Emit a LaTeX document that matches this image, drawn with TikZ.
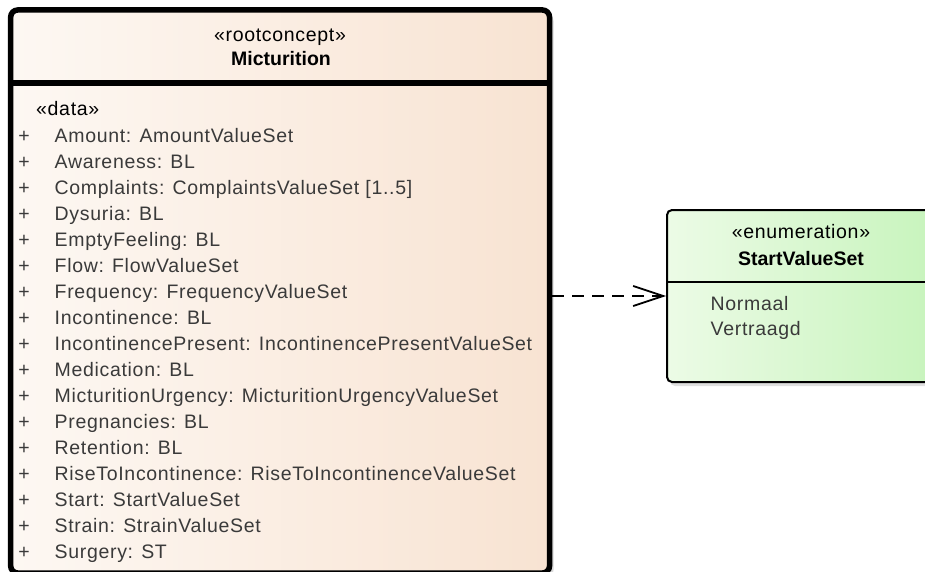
\documentclass[tikz,border=0pt]{standalone}
\usepackage{fontspec}
\setmainfont{Liberation Sans}[LetterSpace=3.5, BoldFeatures={LetterSpace=0}]
\usetikzlibrary{arrows.meta, shadows, positioning}

\definecolor{conceptL}{HTML}{FDF8F3}
\definecolor{conceptR}{HTML}{F8E3D2}
\definecolor{enumL}{HTML}{ECFBE6}
\definecolor{enumR}{HTML}{C7F4BC}
\definecolor{attrgray}{HTML}{3A3A3A}

\begin{document}
\begin{tikzpicture}[x=1pt, y=-1pt,
    concept/.style={
        rectangle, draw=black, line width=5.5pt, rounded corners=7pt,
        left color=conceptL, right color=conceptR,
        drop shadow={shadow xshift=4pt, shadow yshift=-4pt, fill=black!30}
    },
    enumbox/.style={
        rectangle, draw=black, line width=2pt, rounded corners=5pt,
        left color=enumL, right color=enumR,
        drop shadow={shadow xshift=3pt, shadow yshift=-4pt, fill=black!25}
    },
    umltext/.style={inner sep=0pt, anchor=base, font=\fontsize{19.5}{24}\selectfont},
    umlname/.style={umltext, font=\fontsize{19.5}{24}\selectfont\bfseries},
    attr/.style={umltext, anchor=base west, text=attrgray},
    dep/.style={
        line width=1.8pt, dash pattern=on 12pt off 8pt,
        -{Straight Barb[length=30pt, width=20pt]}
    }
]
\clip (0,0) rectangle (925,572);

% root concept class
\node[concept, minimum width=538.8pt, minimum height=563pt] (micturition) at (280.1,291.5) {};
\draw[line width=5.5pt] (micturition.west |- 0,83) -- (micturition.east |- 0,83);
\node[umltext] (rootstereo) at (280,42) {«rootconcept»};
\node[umlname] (rootname) at (281,65.5) {Micturition};
\node[umltext, anchor=base west] (datastereo) at (36,116) {«data»};

\foreach \attr [count=\i from 0] in {
    {Amount: AmountValueSet},
    {Awareness: BL},
    {Complaints: ComplaintsValueSet [1..5]},
    {Dysuria: BL},
    {EmptyFeeling: BL},
    {Flow: FlowValueSet},
    {Frequency: FrequencyValueSet},
    {Incontinence: BL},
    {IncontinencePresent: IncontinencePresentValueSet},
    {Medication: BL},
    {MicturitionUrgency: MicturitionUrgencyValueSet},
    {Pregnancies: BL},
    {Retention: BL},
    {RiseToIncontinence: RiseToIncontinenceValueSet},
    {Start: StartValueSet},
    {Strain: StrainValueSet},
    {Surgery: ST}} {
    \node[umltext, text=attrgray] (plus\i) at (24,143+25.95*\i) {+};
    \node[attr] (attr\i) at (54.5,143+25.95*\i) {\attr};
}

% enumeration class
\node[enumbox, minimum width=271pt, minimum height=172pt] (startset) at (802.5,296) {};
\draw[line width=2pt] (startset.west |- 0,282.3) -- (startset.east |- 0,282.3);
\node[umltext] (enumstereo) at (801,238.5) {«enumeration»};
\node[umlname] (enumname) at (801,265) {StartValueSet};
\node[attr] (normaal) at (710.5,310) {Normaal};
\node[attr] (vertraagd) at (710.5,335) {Vertraagd};

% dependency
\draw[dep] (micturition.east |- startset.west) -- (startset.west);
\end{tikzpicture}
\end{document}
